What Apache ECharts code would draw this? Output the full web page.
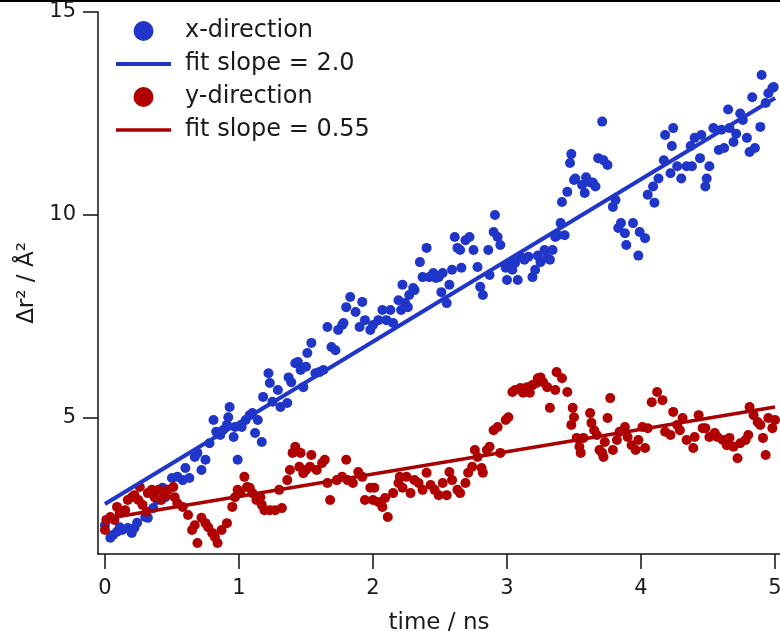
<!DOCTYPE html>
<html>
<head>
<meta charset="utf-8">
<script src="https://cdn.jsdelivr.net/npm/echarts@6/dist/echarts.min.js"></script>
<style>html,body{margin:0;padding:0;background:#fff;}#chart{width:780px;height:631px;}</style>
</head>
<body>
<div id="chart"></div>
<script>
// x-direction MSD (time in ns, value in Å^2)
var xDirTimes = [0.00,0.04,0.06,0.09,0.11,0.13,0.17,0.20,0.22,0.24,0.30,0.32,0.36,0.39,0.41,0.43,0.45,0.50,0.54,0.58,0.60,0.63,0.67,0.69,0.72,0.75,0.78,0.81,0.83,0.86,0.88,0.91,0.92,0.93,0.96,0.97,0.99,1.02,1.05,1.08,1.10,1.12,1.14,1.17,1.18,1.22,1.23,1.25,1.29,1.31,1.36,1.37,1.39,1.42,1.44,1.46,1.48,1.50,1.51,1.54,1.57,1.60,1.63,1.66,1.69,1.72,1.74,1.77,1.78,1.80,1.83,1.87,1.90,1.92,1.94,1.98,2.00,2.04,2.07,2.10,2.13,2.15,2.19,2.21,2.22,2.24,2.26,2.27,2.30,2.31,2.35,2.37,2.40,2.42,2.45,2.47,2.49,2.51,2.52,2.55,2.57,2.59,2.61,2.63,2.65,2.66,2.69,2.72,2.75,2.78,2.80,2.82,2.86,2.87,2.90,2.91,2.93,2.95,2.99,3.00,3.02,3.04,3.06,3.08,3.10,3.13,3.16,3.19,3.21,3.23,3.25,3.28,3.30,3.32,3.34,3.36,3.38,3.40,3.41,3.43,3.45,3.47,3.48,3.50,3.51,3.56,3.58,3.59,3.62,3.64,3.66,3.68,3.71,3.72,3.75,3.79,3.81,3.83,3.85,3.88,3.89,3.94,3.98,3.99,4.03,4.05,4.09,4.10,4.13,4.17,4.18,4.22,4.23,4.24,4.27,4.30,4.34,4.37,4.38,4.40,4.44,4.45,4.48,4.49,4.51,4.54,4.58,4.60,4.62,4.65,4.66,4.69,4.71,4.74,4.76,4.79,4.81,4.83,4.85,4.89,4.90,4.93,4.95,4.98,4.99];
var xDirValues = [2.36,2.05,2.12,2.20,2.31,2.24,2.29,2.17,2.29,2.42,2.56,2.54,2.78,2.98,3.23,3.28,3.05,3.52,3.55,3.47,3.77,3.52,4.04,4.14,3.72,3.97,4.38,4.95,4.66,4.58,4.70,4.83,5.02,5.27,4.53,4.78,3.97,4.78,4.95,5.07,5.12,4.63,4.95,4.41,5.52,6.10,5.86,5.40,5.69,5.27,5.37,6.00,5.88,6.35,6.38,6.18,5.76,6.26,6.60,6.85,6.10,6.13,6.18,7.24,6.75,6.67,7.17,7.29,7.34,7.73,7.98,7.61,7.24,7.86,7.41,7.17,7.29,7.41,7.66,7.41,7.66,7.34,7.90,7.66,8.28,7.83,7.73,8.03,8.20,8.15,8.84,8.47,9.19,8.47,8.57,8.45,8.47,8.10,8.57,7.83,8.28,8.65,9.46,9.19,9.14,8.70,9.38,9.46,9.14,8.72,8.23,8.03,9.14,8.52,9.58,10.00,9.46,9.26,8.70,8.40,8.77,8.65,8.82,8.40,8.97,8.90,8.97,8.47,8.65,9.00,8.84,9.14,8.94,8.90,9.14,9.46,9.50,9.80,10.32,9.50,10.57,11.28,11.50,10.86,10.90,10.74,10.54,10.93,10.80,10.80,10.70,11.40,12.30,11.35,11.23,10.20,10.37,9.68,9.80,9.55,9.26,9.80,9.00,9.58,9.43,10.50,10.70,10.30,10.90,11.35,11.97,11.03,11.70,12.14,11.20,10.90,11.20,11.70,11.20,11.90,11.40,11.97,10.70,10.90,11.20,12.14,11.60,12.10,11.65,12.60,12.14,11.80,12.00,12.50,12.34,11.90,11.55,12.90,11.65,12.17,13.45,12.76,13.00,13.13,13.15];

// y-direction MSD
var yDirTimes = [0.00,0.01,0.04,0.07,0.09,0.11,0.15,0.17,0.20,0.22,0.25,0.26,0.28,0.31,0.32,0.35,0.37,0.40,0.42,0.45,0.47,0.51,0.52,0.54,0.58,0.62,0.65,0.67,0.69,0.72,0.75,0.77,0.80,0.82,0.84,0.87,0.91,0.95,0.97,0.99,1.01,1.04,1.06,1.08,1.10,1.13,1.16,1.17,1.19,1.23,1.27,1.30,1.32,1.36,1.38,1.40,1.42,1.45,1.46,1.48,1.50,1.53,1.54,1.58,1.62,1.64,1.66,1.68,1.73,1.77,1.80,1.81,1.85,1.89,1.92,1.94,1.98,2.00,2.01,2.04,2.07,2.09,2.11,2.15,2.19,2.20,2.22,2.25,2.28,2.31,2.34,2.37,2.40,2.43,2.46,2.49,2.52,2.55,2.57,2.59,2.63,2.65,2.69,2.71,2.74,2.76,2.78,2.81,2.82,2.85,2.87,2.90,2.93,2.95,2.99,3.01,3.04,3.06,3.10,3.12,3.15,3.17,3.19,3.22,3.23,3.25,3.27,3.30,3.32,3.36,3.37,3.41,3.45,3.48,3.49,3.50,3.52,3.54,3.55,3.57,3.62,3.63,3.65,3.67,3.69,3.71,3.72,3.73,3.75,3.77,3.79,3.82,3.84,3.88,3.90,3.93,3.96,3.98,4.01,4.03,4.05,4.08,4.12,4.16,4.18,4.22,4.24,4.27,4.29,4.31,4.34,4.39,4.40,4.43,4.46,4.48,4.51,4.55,4.57,4.61,4.64,4.66,4.69,4.72,4.74,4.78,4.80,4.81,4.84,4.87,4.89,4.91,4.93,4.95,4.98,5.00];
var yDirValues = [2.24,2.49,2.56,2.49,2.81,2.66,2.73,2.98,3.05,3.10,2.98,3.30,2.86,2.69,3.15,3.23,3.05,3.23,2.98,3.10,3.23,3.30,3.05,2.90,2.81,2.61,2.24,2.36,1.92,2.54,2.41,2.31,2.17,2.07,1.92,2.24,2.41,2.81,3.05,3.23,3.15,3.55,3.30,3.28,3.15,2.98,3.05,2.86,2.73,2.73,2.73,3.23,2.78,3.47,3.72,4.14,4.29,3.80,4.14,3.64,3.72,3.80,4.09,3.72,3.89,3.97,3.40,2.98,3.47,3.55,3.97,3.47,3.40,3.67,3.55,2.98,3.28,2.98,3.28,2.93,2.81,3.03,2.56,3.15,3.40,3.55,3.28,3.55,3.15,3.47,3.40,3.23,3.65,3.35,3.23,3.10,3.40,3.10,3.67,3.47,3.23,3.15,3.40,3.65,3.80,4.21,4.04,3.77,3.65,4.21,4.29,4.70,4.78,4.14,4.95,5.02,5.64,5.69,5.74,5.62,5.76,5.62,5.81,5.86,5.98,6.00,5.88,5.76,5.25,5.69,6.13,5.98,5.64,4.83,5.25,5.02,4.51,4.29,4.14,4.51,5.12,4.88,4.70,4.58,4.21,4.14,4.04,4.41,5.00,5.49,4.21,4.46,4.66,4.78,4.53,4.33,4.21,4.46,4.78,4.26,4.75,5.39,5.64,5.44,4.66,4.58,5.15,4.83,4.70,5.00,4.46,4.26,4.53,5.07,4.75,4.75,4.53,4.63,4.53,4.46,4.33,4.51,4.29,4.01,4.38,4.46,4.58,5.27,5.07,4.90,4.83,4.51,4.09,5.00,4.75,4.95];

// linear fits (endpoints)
var fitTimes = [0, 5];
var xFitValues = [2.88, 12.88];
var yFitValues = [2.52, 5.27];

var xTicks = [0, 1, 2, 3, 4, 5];
var yTicks = [5, 10, 15];

function zip(a, b) { return a.map(function (t, i) { return [t, b[i]]; }); }

var BLUE = '#1f36c9', RED = '#b00000', DRED = '#a80000';
var FONT = 'DejaVu Sans';
var TXT = '#1a1a1a';
var chart = echarts.init(document.getElementById('chart'), null, { renderer: 'canvas' });
chart.setOption({
  animation: false,
  backgroundColor: '#fff',
  textStyle: { fontFamily: FONT, color: TXT },
  grid: { left: 98, right: 0, top: 12, bottom: 77, containLabel: false, outerBoundsMode: 'none' },
  legend: {
    orient: 'vertical', left: 114, top: 19, padding: 0,
    itemWidth: 55, itemHeight: 20, itemGap: 9,
    textStyle: { fontFamily: FONT, fontSize: 24, color: TXT, padding: [0, 0, 0, 9] },
    data: [
      { name: 'x-direction' },
      { name: 'fit slope = 2.0', itemStyle: { opacity: 0 }, lineStyle: { width: 4 } },
      { name: 'y-direction' },
      { name: 'fit slope = 0.55', itemStyle: { opacity: 0 }, lineStyle: { width: 3.5 } }
    ]
  },
  xAxis: {
    type: 'value', min: -0.052, max: 5.037,
    name: 'time / ns', nameLocation: 'middle', nameGap: 58,
    nameTextStyle: { fontFamily: FONT, fontSize: 23, color: TXT },
    axisLine: { show: true, onZero: false, lineStyle: { color: '#111', width: 1.5 } },
    axisTick: { show: true, customValues: xTicks, length: 15, lineStyle: { color: '#111', width: 1.5 } },
    axisLabel: { customValues: xTicks, fontFamily: FONT, fontSize: 21, color: TXT, margin: 24 },
    splitLine: { show: false }
  },
  yAxis: {
    type: 'value', min: 1.65, max: 15,
    name: 'Δr² / Å²', nameLocation: 'middle', nameGap: 57, nameRotate: 90,
    nameTextStyle: { fontFamily: FONT, fontSize: 23, color: TXT },
    axisLine: { show: true, onZero: false, lineStyle: { color: '#111', width: 1.5 } },
    axisTick: { show: true, customValues: yTicks, length: 15, lineStyle: { color: '#111', width: 1.5 } },
    axisLabel: { customValues: yTicks, fontFamily: FONT, fontSize: 21, color: TXT, margin: 22, padding: [4, 0, 0, 0] },
    splitLine: { show: false }
  },
  series: [
    { name: 'x-direction', type: 'scatter', data: zip(xDirTimes, xDirValues), symbol: 'circle', symbolSize: 10, itemStyle: { color: BLUE, opacity: 1 } },
    { name: 'fit slope = 2.0', type: 'line', data: zip(fitTimes, xFitValues), showSymbol: false, symbol: 'none', lineStyle: { color: BLUE, width: 4 }, itemStyle: { color: BLUE }, z: 3 },
    { name: 'y-direction', type: 'scatter', data: zip(yDirTimes, yDirValues), symbol: 'circle', symbolSize: 10, itemStyle: { color: RED, opacity: 1 } },
    { name: 'fit slope = 0.55', type: 'line', data: zip(fitTimes, yFitValues), showSymbol: false, symbol: 'none', lineStyle: { color: DRED, width: 3.5 }, itemStyle: { color: DRED }, z: 3 }
  ],
  graphic: [
    { type: 'rect', left: 0, top: 0, shape: { width: 780, height: 2 }, style: { fill: '#000' }, silent: true }
  ]
});
</script>
</body>
</html>
